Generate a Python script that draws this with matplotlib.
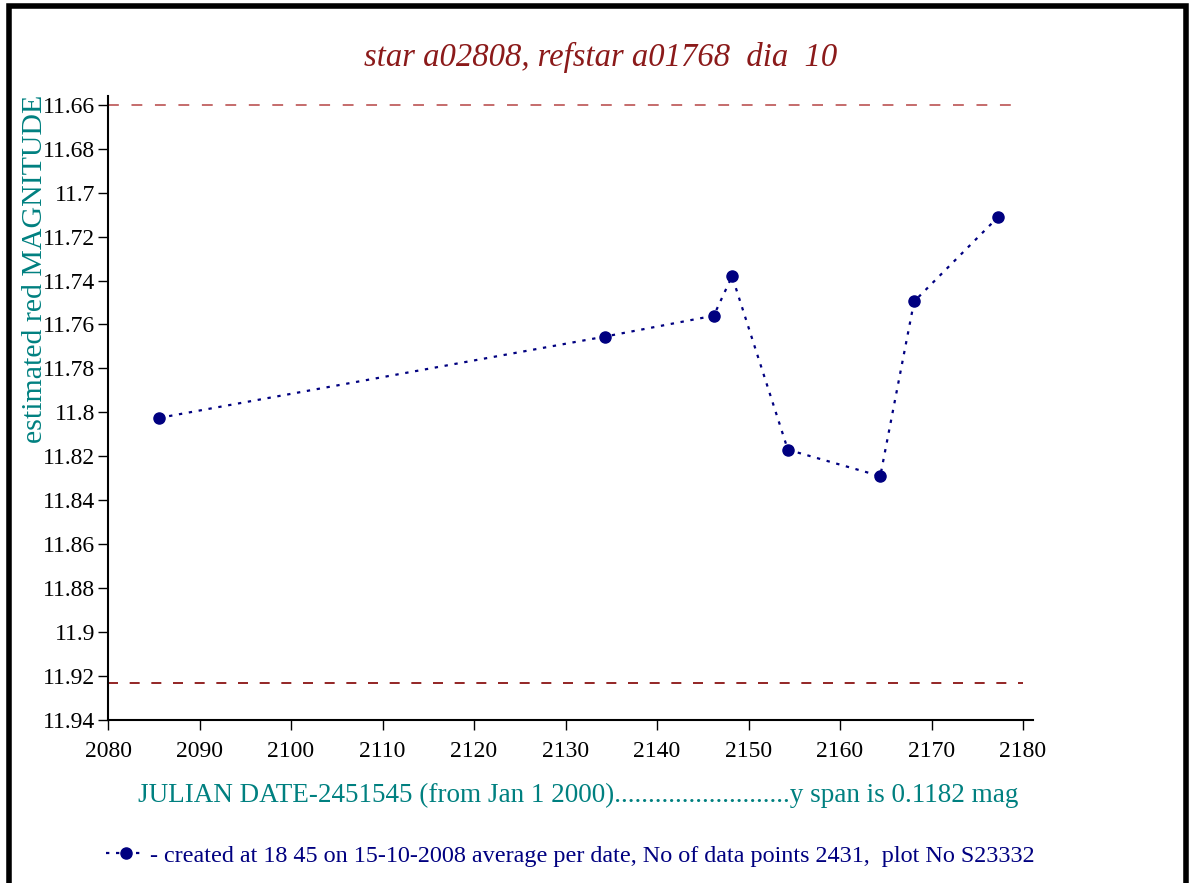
import matplotlib.pyplot as plt
from matplotlib.patches import Rectangle

plt.rcParams['font.family'] = ['Liberation Serif', 'DejaVu Serif']

# data
jd = [2085.6, 2134.3, 2146.2, 2148.2, 2154.3, 2164.4, 2168.1, 2177.3]
mag = [11.8025, 11.7655, 11.756, 11.738, 11.817, 11.829, 11.7495, 11.711]
upper_limit = 11.66
lower_limit = 11.923
xticks = [2080, 2090, 2100, 2110, 2120, 2130, 2140, 2150, 2160, 2170, 2180]
yticks = [11.66, 11.68, 11.70, 11.72, 11.74, 11.76, 11.78, 11.80,
          11.82, 11.84, 11.86, 11.88, 11.90, 11.92, 11.94]
ytick_labels = ['11.66', '11.68', '11.7', '11.72', '11.74', '11.76', '11.78', '11.8',
                '11.82', '11.84', '11.86', '11.88', '11.9', '11.92', '11.94']

fig = plt.figure(figsize=(11.91, 8.83), dpi=100)
ax = fig.add_axes([0.0907, 0.1846, 0.7767, 0.7067])

# black frame round the whole picture
fig.patches.append(Rectangle((0.0075, -0.05), 0.988, 1.043, transform=fig.transFigure,
                             fill=False, edgecolor='black', linewidth=4))

ax.hlines(upper_limit, 2080, 2180, colors='#c06060', linestyles=(0, (6, 7)), linewidth=1.3)
ax.hlines(lower_limit, 2080, 2180, colors='#800000', linestyles=(0, (6, 7)), linewidth=1.2)

line, = ax.plot(jd, mag, linestyle=(0, (1.5, 3)), color='#000080', linewidth=1.6,
                marker='o', markersize=8, markerfacecolor='#000080', markeredgecolor='#000080')

ax.set_xlim(2080, 2181.1)
ax.set_ylim(11.94, 11.656)
ax.set_xticks(xticks)
ax.set_yticks(yticks)
ax.set_yticklabels(ytick_labels)
ax.tick_params(axis='both', direction='out', length=7, width=1, labelsize=17, colors='black')
ax.tick_params(axis='x', pad=8)
ax.tick_params(axis='y', pad=2)
for s in ['top', 'right']:
    ax.spines[s].set_visible(False)
for s in ['left', 'bottom']:
    ax.spines[s].set_linewidth(1.5)

fig.text(0.504, 0.935, 'star a02808, refstar a01768  dia  10', ha='center', va='center',
         fontsize=23.5, style='italic', color='#8b1a1a')
fig.text(0.029, 0.695, 'estimated red MAGNITUDE', ha='center', va='center', rotation=90,
         fontsize=21.5, color='#008080')
fig.text(0.116, 0.099, 'JULIAN DATE-2451545 (from Jan 1 2000)..........................y span is 0.1182 mag',
         ha='left', va='center', fontsize=19.5, color='#008080')

fig.legend([line], ['- created at 18 45 on 15-10-2008 average per date, No of data points 2431,  plot No S23332'],
           loc='center', bbox_to_anchor=(0.479, 0.031), frameon=False, fontsize=17.4,
           labelcolor='#000080', handlelength=1.6, handletextpad=0.2)

fig.savefig('out.png', dpi=100)
